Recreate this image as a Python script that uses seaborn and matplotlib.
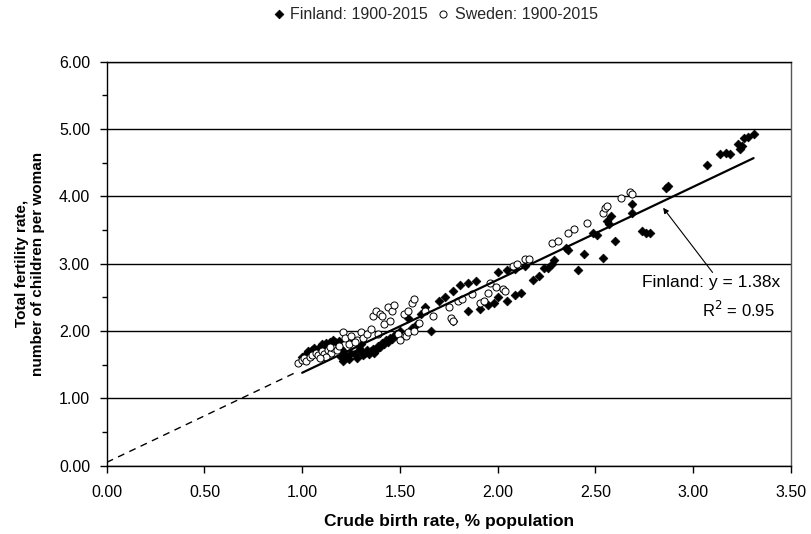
import numpy as np
import pandas as pd
import matplotlib
matplotlib.use("Agg")
import matplotlib.pyplot as plt
import seaborn as sns
from matplotlib.ticker import MultipleLocator, FormatStrFormatter

# ---- data ----
fin_cbr = [1.00, 1.02, 1.03, 1.05, 1.06, 1.08, 1.09, 1.10, 1.11, 1.12, 1.13, 1.14, 1.15, 1.16,
           1.17, 1.18, 1.19, 1.20, 1.21, 1.22, 1.23, 1.24, 1.21, 1.25, 1.26, 1.27, 1.28, 1.29,
           1.30, 1.31, 1.32, 1.33, 1.34, 1.35, 1.36, 1.37, 1.38, 1.39, 1.40, 1.41, 1.42, 1.43,
           1.44, 1.45, 1.46, 1.47, 1.48, 1.50, 1.30, 1.25, 1.12, 1.20,
           1.54, 1.56, 1.59, 1.61, 1.63, 1.66, 1.70, 1.73, 1.77, 1.77, 1.81, 1.85, 1.85, 1.89,
           1.91, 1.95, 1.98, 2.00, 2.00, 2.05, 2.05, 2.09, 2.09, 2.12, 2.14, 2.18, 2.21, 2.24,
           2.26, 2.28, 2.29, 2.35, 2.36, 2.41, 2.44, 2.49, 2.51, 2.54, 2.56, 2.57, 2.58, 2.60,
           2.69, 2.69, 2.74, 2.76, 2.78, 2.86, 2.87, 3.07, 3.14, 3.17, 3.19, 3.23, 3.24, 3.25,
           3.26, 3.28, 3.31]
fin_tfr = [1.62, 1.66, 1.70, 1.72, 1.75, 1.73, 1.77, 1.80, 1.78, 1.82, 1.76, 1.84, 1.80, 1.86,
           1.83, 1.79, 1.85, 1.74, 1.70, 1.65, 1.62, 1.58, 1.55, 1.68, 1.72, 1.66, 1.60, 1.75,
           1.70, 1.64, 1.68, 1.72, 1.66, 1.70, 1.74, 1.68, 1.72, 1.78, 1.76, 1.82, 1.80, 1.86,
           1.84, 1.90, 1.88, 1.92, 1.96, 2.00, 1.80, 1.82, 1.70, 1.62,
           2.20, 2.05, 2.10, 2.25, 2.35, 2.00, 2.45, 2.50, 2.59, 2.15, 2.68, 2.71, 2.29, 2.75,
           2.33, 2.38, 2.42, 2.50, 2.87, 2.90, 2.45, 2.92, 2.53, 2.57, 2.97, 2.76, 2.82, 2.94,
           2.93, 3.00, 3.06, 3.24, 3.21, 2.91, 3.15, 3.45, 3.43, 3.08, 3.64, 3.59, 3.71, 3.34,
           3.76, 3.89, 3.49, 3.46, 3.46, 4.13, 4.15, 4.47, 4.63, 4.65, 4.63, 4.78, 4.71, 4.75,
           4.86, 4.88, 4.93]

swe_cbr = [0.98, 1.00, 1.01, 1.02, 1.04, 1.05, 1.07, 1.08, 1.10, 1.11, 1.13, 1.15, 1.16, 1.18,
           1.19, 1.21, 1.22, 1.25, 1.26, 1.28, 1.30, 1.31, 1.33, 1.35, 1.36, 1.38, 1.39, 1.40,
           1.41, 1.42, 1.44, 1.45, 1.46, 1.47, 1.49, 1.50, 1.52, 1.53, 1.54, 1.54, 1.56, 1.57,
           1.57, 1.60, 1.63, 1.67, 1.75, 1.76, 1.77, 1.80, 1.82, 1.87, 1.91, 1.93, 1.95, 1.96,
           1.99, 2.03, 2.04, 2.08, 2.10, 2.14, 2.16, 2.28, 2.31, 2.36, 2.39, 2.46, 2.54, 2.55,
           2.56, 2.63, 2.68, 2.69, 1.12, 1.09, 1.24, 1.27, 1.14]
swe_tfr = [1.53, 1.57, 1.60, 1.55, 1.62, 1.65, 1.68, 1.64, 1.70, 1.66, 1.72, 1.68, 1.75, 1.72,
           1.78, 1.98, 1.90, 1.93, 1.76, 1.86, 1.98, 1.90, 1.96, 2.03, 2.23, 2.30, 1.95, 2.26,
           2.22, 2.11, 2.35, 2.15, 2.30, 2.38, 1.96, 1.86, 2.26, 1.93, 1.98, 2.30, 2.42, 2.48,
           2.00, 2.12, 2.30, 2.23, 2.35, 2.20, 2.15, 2.45, 2.48, 2.55, 2.42, 2.45, 2.57, 2.72,
           2.65, 2.63, 2.60, 2.97, 3.00, 3.07, 3.07, 3.31, 3.34, 3.45, 3.52, 3.61, 3.76, 3.83,
           3.86, 3.97, 4.06, 4.04, 1.62, 1.60, 1.80, 1.84, 1.76]

fin_slope = 1.38
fin_r2 = 0.95
fin_label = "Finland: 1900-2015"
swe_label = "Sweden: 1900-2015"
x_label = "Crude birth rate, % population"
y_label = "Total fertility rate,\nnumber of children per woman"

fin = pd.DataFrame({"cbr": fin_cbr, "tfr": fin_tfr})
swe = pd.DataFrame({"cbr": swe_cbr, "tfr": swe_tfr})

sns.set_theme(style="white")
plt.rcParams["font.family"] = ["Liberation Sans", "DejaVu Sans"]

fig = plt.figure(figsize=(8.11, 5.34), dpi=100)
ax = fig.add_axes([0.1316, 0.1279, 0.8434, 0.7566])

sns.scatterplot(data=fin, x="cbr", y="tfr", marker="D", s=20, color="black",
                edgecolor="black", linewidth=0.5, ax=ax, label=fin_label, zorder=3)
sns.scatterplot(data=swe, x="cbr", y="tfr", marker="o", s=26, facecolor="white",
                edgecolor="black", linewidth=0.7, ax=ax, label=swe_label, zorder=4)

# trend line through origin
x_lo, x_hi = min(fin_cbr), max(fin_cbr)
xs_solid = np.array([x_lo, x_hi])
xs_dash = np.array([0.0, x_lo - 0.03])
ax.plot(xs_solid, fin_slope * xs_solid, color="black", lw=1.6, zorder=5)
ax.plot(xs_dash, fin_slope * xs_dash + 0.05, color="black", lw=1.0,
        dashes=(5, 4), zorder=5)

ax.annotate("", xy=(2.847, 3.83), xytext=(3.10, 2.87),
            arrowprops=dict(arrowstyle="-|>", color="black", lw=0.8,
                            mutation_scale=8, shrinkA=0, shrinkB=0))
ax.text(3.446, 2.715, f"Finland: y = {fin_slope:.2f}x", ha="right", va="center",
        fontsize=12.5, color="black")
ax.text(3.42, 2.31, f"R$^2$ = {fin_r2:.2f}", ha="right", va="center",
        fontsize=12, color="black")

ax.set_xlim(0, 3.5)
ax.set_ylim(0, 6)
ax.xaxis.set_major_locator(MultipleLocator(0.5))
ax.yaxis.set_major_locator(MultipleLocator(1.0))
ax.yaxis.set_minor_locator(MultipleLocator(0.5))
ax.xaxis.set_major_formatter(FormatStrFormatter("%.2f"))
ax.yaxis.set_major_formatter(FormatStrFormatter("%.2f"))
ax.tick_params(axis="both", which="major", direction="out", length=5, width=1,
               color="black", labelsize=11.5, labelcolor="black")
ax.tick_params(axis="y", which="minor", direction="out", length=3.5, width=1,
               color="black", left=True)
ax.tick_params(axis="x", which="major", bottom=True, pad=9)
ax.tick_params(axis="y", which="major", left=True, pad=7)

ax.yaxis.grid(True, which="major", color="black", lw=1.0)
ax.xaxis.grid(False)
ax.set_axisbelow(True)
for side in ["left", "bottom", "right", "top"]:
    ax.spines[side].set_color("black")
    ax.spines[side].set_linewidth(1.0)
ax.spines["right"].set_color("#555555")

ax.set_xlabel(x_label, fontsize=12.5, fontweight="bold", color="black")
ax.set_ylabel(y_label, fontsize=11, fontweight="bold", color="black", linespacing=1.2)
ax.xaxis.set_label_coords(0.5, -0.12)
ax.yaxis.set_label_coords(-0.09, 0.5)

handles, labels = ax.get_legend_handles_labels()
ax.legend(handles, labels, loc="center", bbox_to_anchor=(0.481, 1.118), ncol=2,
          frameon=False, fontsize=11.5, handlelength=0.6, handletextpad=0.4,
          columnspacing=0.7, markerscale=1.0)

fig.savefig("out.png", dpi=100, facecolor="white")
